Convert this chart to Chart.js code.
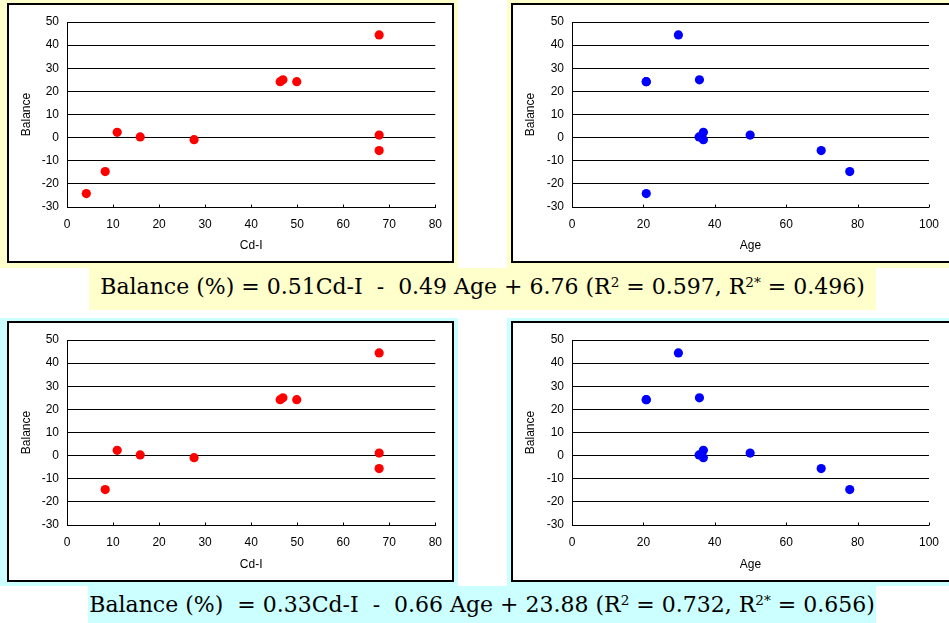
<!DOCTYPE html>
<html>
<head>
<meta charset="utf-8">
<script src="https://cdn.jsdelivr.net/npm/chart.js@4.4.0/dist/chart.umd.min.js"></script>
<style>
body { margin:0; width:949px; height:623px; overflow:hidden; background:#fff; position:relative; }
.bg { position:absolute; }
.yellow { background:#FFFFCC; }
.cyan { background:#CCFFFF; }
.panel { position:absolute; border:2px solid #000; background:#fff; }
.panel canvas { position:absolute; left:0; top:0; }
.formula { position:absolute; font-family:"DejaVu Serif", serif; font-size:22px; white-space:pre; text-align:center; color:#000; }
.formula sup { font-size:62%; vertical-align:0.55em; line-height:0; }
</style>
</head>
<body>
<div class="bg yellow" style="left:0;top:0;width:458px;height:268px"></div>
<div class="bg yellow" style="left:507px;top:0;width:442px;height:268px"></div>
<div class="bg cyan" style="left:0;top:318px;width:458px;height:268px"></div>
<div class="bg cyan" style="left:507px;top:318px;width:442px;height:268px"></div>

<div class="panel" style="left:7px;top:3px;width:443px;height:256px"><canvas id="cht_cd_all" width="443" height="256"></canvas></div>
<div class="panel" style="left:511px;top:3px;width:460px;height:256px"><canvas id="cht_age_all" width="436" height="256"></canvas></div>
<div class="panel" style="left:7px;top:321px;width:443px;height:257px"><canvas id="cht_cd_sub" width="443" height="257"></canvas></div>
<div class="panel" style="left:511px;top:321px;width:460px;height:257px"><canvas id="cht_age_sub" width="436" height="257"></canvas></div>

<div class="formula yellow" style="left:89px;top:268px;width:787px;height:42px;line-height:37px">Balance (%) = 0.51Cd-I  -  0.49 Age + 6.76 (R<sup>2</sup> = 0.597, R<sup>2*</sup> = 0.496)</div>
<div class="formula cyan" style="left:88px;top:586px;width:788px;height:37px;line-height:37px">Balance (%)  = 0.33Cd-I  -  0.66 Age + 23.88 (R<sup>2</sup> = 0.732, R<sup>2*</sup> = 0.656)</div>

<script>
"use strict";

// values, one entry per sample
var balance = [-24.2, -14.7, 2.3, 0.3, -0.9, 24.2, 25.0, 24.2, 44.4, 1.1, -5.6];
var cdI     = [4.2, 8.3, 10.9, 15.9, 27.6, 46.3, 46.9, 49.9, 67.8, 67.8, 67.8];
var age     = [20.8, 77.8, 36.8, 35.6, 36.8, 20.8, 35.7, 20.8, 29.8, 49.9, 69.8];

// lower row leaves out the first sample
var balanceSub = balance.slice(1);
var cdISub = cdI.slice(1);
var ageSub = age.slice(1);

var yTicks = [-30, -20, -10, 0, 10, 20, 30, 40, 50];
var cdTicks = [0, 10, 20, 30, 40, 50, 60, 70, 80];
var ageTicks = [0, 20, 40, 60, 80, 100];

var tickFont = { family: "'Liberation Sans', Arial, sans-serif", size: 12 };

// short tick marks pointing into the plot, as on the x axis of the original
var innerTicks = {
	id: 'innerTicks',
	afterDraw: function (chart) {
		var ctx = chart.ctx;
		var sx = chart.scales.x;
		var b = Math.round(chart.chartArea.bottom) + 0.5;
		ctx.save();
		ctx.strokeStyle = '#000';
		ctx.lineWidth = 1;
		sx.ticks.forEach(function (t) {
			var px = Math.round(sx.getPixelForValue(t.value)) + 0.5;
			ctx.beginPath();
			ctx.moveTo(px, b);
			ctx.lineTo(px, b - 3);
			ctx.stroke();
		});
		ctx.restore();
	}
};

function makeChart(id, xs, ys, xTickVals, xTitle, color, rightPad, axisLeft, xAxisHeight) {
	var pts = [];
	for (var i = 0; i < xs.length; i++) {
		pts.push({ x: xs[i], y: ys[i] });
	}
	return new Chart(document.getElementById(id).getContext('2d'), {
		type: 'scatter',
		data: {
			datasets: [{
				data: pts,
				backgroundColor: color,
				borderColor: color,
				borderWidth: 0,
				pointRadius: 4.6,
				pointHoverRadius: 4.6
			}]
		},
		options: {
			responsive: false,
			animation: false,
			events: [],
			layout: { padding: { top: 17, right: rightPad, left: 0, bottom: 0 } },
			plugins: { legend: { display: false }, tooltip: { enabled: false } },
			scales: {
				x: {
					type: 'linear',
					min: xTickVals[0],
					max: xTickVals[xTickVals.length - 1],
					afterBuildTicks: function (s) { s.ticks = xTickVals.map(function (v) { return { value: v }; }); },
					ticks: { font: tickFont, color: '#000', padding: 10, maxRotation: 0 },
					grid: { display: false, drawTicks: false },
					border: { display: true, color: '#000', width: 1 },
					title: { display: true, text: xTitle, font: tickFont, color: '#000', padding: { top: 0, bottom: 8 } },
					afterFit: function (s) { s.height = xAxisHeight; }
				},
				y: {
					type: 'linear',
					min: -30,
					max: 50,
					afterBuildTicks: function (s) { s.ticks = yTicks.map(function (v) { return { value: v }; }); },
					ticks: { font: tickFont, color: '#000', padding: 8 },
					grid: { color: '#000', lineWidth: 1, drawTicks: false },
					border: { display: true, color: '#000', width: 1 },
					title: { display: true, text: 'Balance', font: tickFont, color: '#000', padding: { top: 10, bottom: 0 } },
					afterFit: function (s) { s.width = axisLeft; }
				}
			}
		},
		plugins: [innerTicks]
	});
}

makeChart('cht_cd_all', cdI, balance, cdTicks, 'Cd-I', '#FF0000', 16, 58, 54);
makeChart('cht_age_all', age, balance, ageTicks, 'Age', '#0000FF', 11, 59, 54);
makeChart('cht_cd_sub', cdISub, balanceSub, cdTicks, 'Cd-I', '#FF0000', 16, 58, 55);
makeChart('cht_age_sub', ageSub, balanceSub, ageTicks, 'Age', '#0000FF', 11, 59, 55);
</script>
</body>
</html>
